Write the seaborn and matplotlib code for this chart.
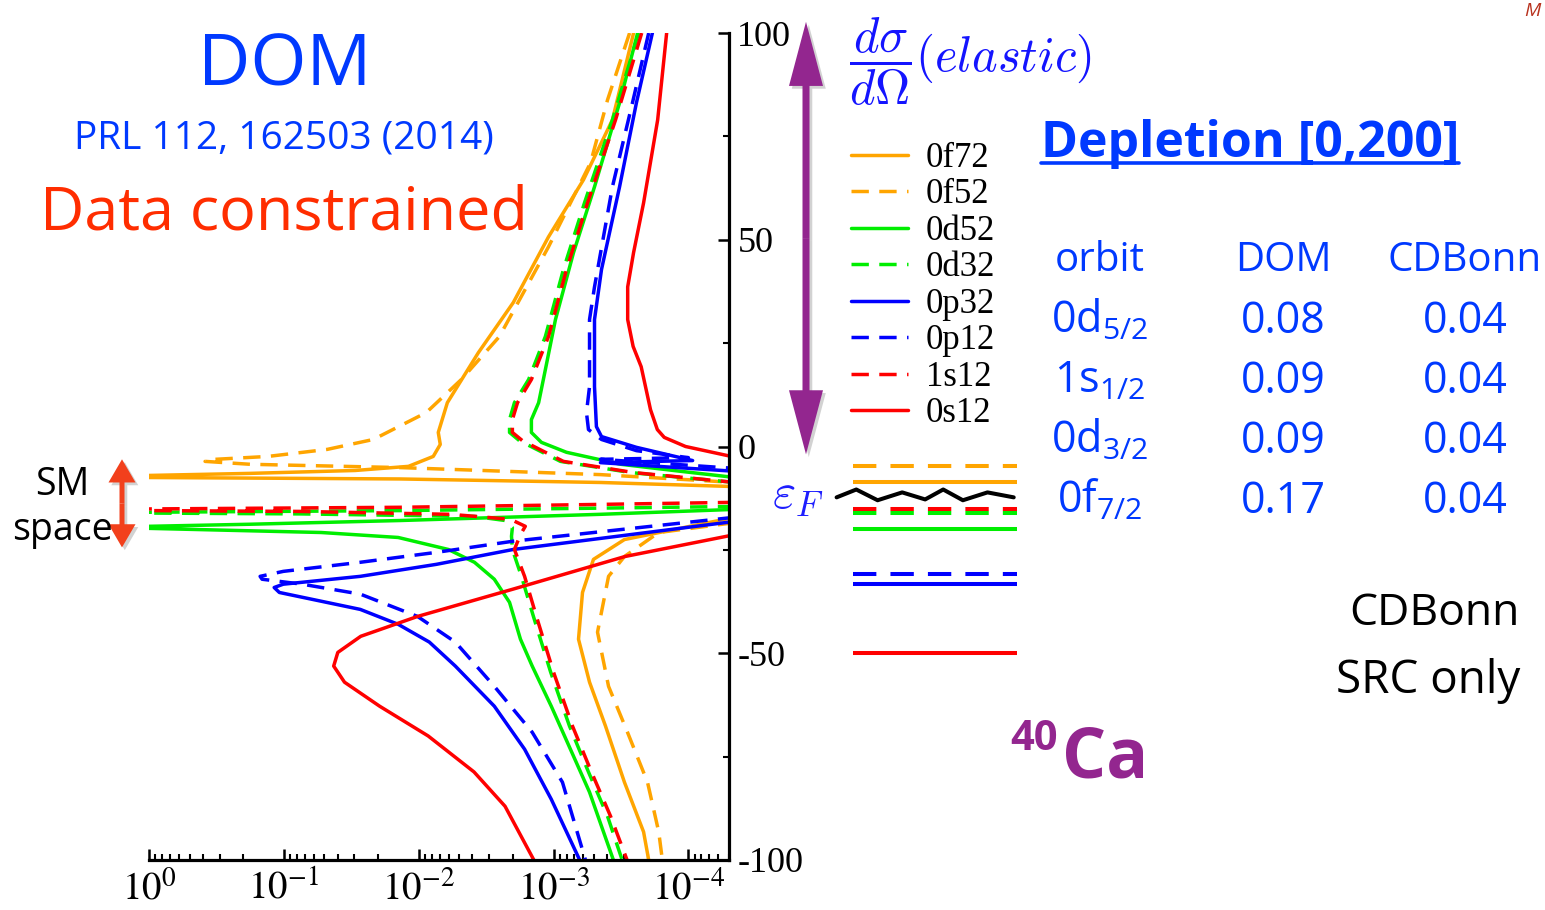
import matplotlib
matplotlib.use("Agg")
import matplotlib.pyplot as plt
import matplotlib.patheffects as pe
from matplotlib.patches import FancyArrow
from matplotlib.lines import Line2D
from matplotlib.ticker import LogLocator, MultipleLocator, NullFormatter
from matplotlib.transforms import blended_transform_factory
import pandas as pd
import seaborn as sns

# ---------------- spectral functions S(E) [MeV^-1] versus energy E [MeV] ----------------
# each orbit has a branch above and a branch below the Fermi energy
E_0f72_above = [100, 79.0, 64.5, 50.7, 34.8, 22.7, 10.6, 3.4, 0.5, -2.4, -4.8, -5.8, -6.5, -7.0, -7.25, -7.5, -7.85, -8.7, -9.7]
S_0f72_above = [2.55e-4, 3.66e-4, 6.0e-4, 1.09e-3, 1.99e-3, 3.61e-3, 6.13e-3, 7.16e-3, 6.92e-3, 7.80e-3, 1.19e-2, 2.96e-2, 0.178, 1.0, 10.0, 1.0, 1.37e-2, 4.49e-4, 4.5e-5]
E_0f72_below = [-17.1, -22.5, -27.3, -35.3, -46.6, -57.0, -67.6, -81.2, -93.2, -100]
S_0f72_below = [4.5e-5, 2.98e-4, 5.06e-4, 6.1e-4, 6.53e-4, 5.41e-4, 4.12e-4, 2.98e-4, 2.15e-4, 1.97e-4]

E_0f52_above = [100, 83.8, 68.6, 48.3, 26.6, 16.2, 8.2, 1.7, -0.7, -2.4, -3.1, -3.6, -4.3, -5.1, -6.8, -8.7]
S_0f52_above = [2.73e-4, 3.98e-4, 5.32e-4, 1.09e-3, 2.52e-3, 4.83e-3, 8.79e-3, 2.17e-2, 4.77e-2, 0.131, 0.324, 0.384, 0.178, 1.37e-2, 4.49e-4, 4.5e-5]
E_0f52_below = [-18.4, -20.8, -26.6, -31.4, -44.9, -58.0, -69.1, -81.2, -93.2, -100]
S_0f52_below = [4.5e-5, 1.66e-4, 2.98e-4, 3.91e-4, 4.72e-4, 3.91e-4, 2.83e-4, 2.01e-4, 1.66e-4, 1.56e-4]

E_0d52_above = [100, 83.1, 62.8, 46.9, 30.7, 18.6, 10.6, 6.5, 3.4, 1.0, -1.4, -4.3, -6.0, -7.5]
S_0d52_above = [2.38e-4, 3.24e-4, 4.97e-4, 7.11e-4, 9.68e-4, 1.15e-3, 1.29e-3, 1.46e-3, 1.46e-3, 1.23e-3, 8.02e-4, 3.18e-4, 1.14e-4, 4.5e-5]
E_0d52_below = [-15.2, -16.4, -17.9, -18.8, -19.3, -19.6, -19.8, -20.8, -22.0, -24.9, -28.0, -32.1, -37.7, -46.6, -53.1, -62.8, -73.2, -83.6, -100]
S_0d52_below = [4.5e-5, 4.49e-4, 1.37e-2, 0.178, 1.0, 10.0, 1.0, 5.28e-2, 1.42e-2, 6.03e-3, 3.86e-3, 2.75e-3, 2.12e-3, 1.76e-3, 1.44e-3, 1.04e-3, 7.5e-4, 5.41e-4, 3.6e-4]

E_0d32_above = [100, 79.0, 58.9, 42.8, 26.6, 16.2, 10.6, 6.5, 3.4, 1.4, -3.6, -6.3, -8.7]
S_0d32_above = [2.34e-4, 3.66e-4, 5.9e-4, 8.45e-4, 1.15e-3, 1.53e-3, 1.95e-3, 2.12e-3, 2.12e-3, 1.79e-3, 8.89e-4, 2.69e-4, 4.5e-5]
E_0d32_below = [-14.5, -15.5, -15.9, -16.0, -16.1, -16.3, -16.9, -17.9, -19.6, -21.7, -24.9, -31.4, -41.1, -54.6, -67.6, -78.7, -89.4, -100]
S_0d32_below = [4.5e-5, 1.37e-2, 1.0, 10.0, 1.0, 7.6e-2, 3.86e-3, 2.28e-3, 2.02e-3, 2.05e-3, 2.02e-3, 1.73e-3, 1.41e-3, 1.05e-3, 7.62e-4, 5.51e-4, 3.98e-4, 3.1e-4]

E_0p32_above = [100, 83.1, 62.8, 42.8, 30.7, 14.5, 4.8, 2.4, -0.2, -3.4, -3.9, -6.0]
S_0p32_above = [1.85e-4, 2.43e-4, 3.24e-4, 4.41e-4, 4.97e-4, 4.97e-4, 4.81e-4, 4.41e-4, 2.43e-4, 9.3e-5, 4.49e-4, 4.5e-5]
E_0p32_below = [-18.1, -24.9, -28.5, -31.4, -33.3, -34.1, -35.3, -39.4, -43.0, -47.3, -53.1, -62.8, -73.2, -85.3, -100]
S_0p32_below = [4.5e-5, 1.99e-3, 7.4e-3, 2.71e-2, 0.101, 0.118, 0.108, 2.71e-2, 1.42e-2, 8.34e-3, 5.35e-3, 2.75e-3, 1.64e-3, 1.04e-3, 6.4e-4]

E_0p12_above = [100, 83.1, 62.8, 38.6, 30.7, 14.5, 8.2, 4.1, 1.7, -1.0, -2.7, -3.1, -5.3]
S_0p12_above = [1.97e-4, 2.6e-4, 3.66e-4, 4.97e-4, 5.41e-4, 5.41e-4, 5.7e-4, 5.51e-4, 4.41e-4, 2.43e-4, 1.0e-4, 4.49e-4, 4.5e-5]
E_0p12_below = [-17.1, -22.9, -25.6, -28.0, -30.2, -31.4, -32.1, -33.3, -35.7, -41.1, -47.3, -58.0, -69.1, -81.2, -100]
S_0p12_below = [4.5e-5, 1.99e-3, 7.4e-3, 2.71e-2, 0.101, 0.150, 0.145, 7.31e-2, 2.71e-2, 1.02e-2, 5.35e-3, 2.75e-3, 1.44e-3, 8.59e-4, 5.8e-4]

E_1s12_above = [100, 79.0, 58.9, 42.8, 26.6, 16.2, 10.6, 6.5, 3.4, 1.4, -3.6, -6.3, -8.7]
S_1s12_above = [2.22e-4, 3.47e-4, 5.6e-4, 8.02e-4, 1.09e-3, 1.46e-3, 1.85e-3, 2.02e-3, 2.02e-3, 1.70e-3, 8.45e-4, 2.55e-4, 4.5e-5]
E_1s12_below = [-13.5, -14.0, -14.7, -15.1, -15.3, -15.5, -15.7, -16.4, -17.6, -19.3, -21.3, -24.9, -31.4, -41.1, -54.6, -67.6, -78.7, -89.4, -100]
S_1s12_below = [4.5e-5, 4.49e-4, 1.37e-2, 1.0, 10.0, 1.0, 7.57e-2, 5.82e-3, 2.09e-3, 1.62e-3, 1.76e-3, 1.95e-3, 1.64e-3, 1.34e-3, 1.0e-3, 7.24e-4, 5.24e-4, 3.78e-4, 2.85e-4]

E_0s12_above = [100, 79.0, 58.9, 46.9, 38.6, 30.7, 24.2, 19.3, 8.9, 4.1, 2.2, 0.0, -2.6]
S_0s12_above = [1.45e-4, 1.69e-4, 2.15e-4, 2.55e-4, 2.82e-4, 2.82e-4, 2.57e-4, 2.24e-4, 1.91e-4, 1.70e-4, 1.51e-4, 1.05e-4, 4.5e-5]
E_0s12_below = [-21.3, -26.6, -34.5, -41.1, -45.9, -49.8, -53.1, -57.0, -62.8, -70.0, -78.7, -87.0, -100]
S_0s12_below = [4.5e-5, 2.95e-4, 2.0e-3, 1.02e-2, 2.69e-2, 3.98e-2, 4.27e-2, 3.55e-2, 1.95e-2, 8.51e-3, 3.89e-3, 2.29e-3, 1.4e-3]

orbit_names = ["0f72", "0f52", "0d52", "0d32", "0p32", "0p12", "1s12", "0s12"]
orbit_colors = ["#FFA500", "#FFA500", "#00EE00", "#00EE00", "#0000FF", "#0000FF", "#FF0000", "#FF0000"]
orbit_dashed = [False, True, False, True, False, True, True, False]

# quasi-particle levels and Fermi energy [MeV]
level_orbits = ["0f52", "0f72", "1s12", "0d32", "0d52", "0p12", "0p32", "0s12"]
level_energies = [-4.8, -8.7, -15.2, -16.2, -19.9, -30.8, -33.3, -49.9]
fermi_energy = -11.7
fermi_zigzag_x = [-0.10, 0.02, 0.15, 0.30, 0.44, 0.55, 0.67, 0.82, 0.98]
fermi_zigzag_dE = [-0.6, 1.3, -1.3, 0.6, -1.1, 1.3, -1.3, 0.6, -0.6]

x_ticks = [1, 1e-1, 1e-2, 1e-3, 1e-4]
x_tick_labels = [r"$10^{0}$", r"$10^{-1}$", r"$10^{-2}$", r"$10^{-3}$", r"$10^{-4}$"]
y_ticks = [-100, -50, 0, 50, 100]
y_tick_labels = ["-100", "-50", "0", "50", "100"]

# depletion of the orbits, integrated over [0, 200] MeV
table_header = ["orbit", "DOM", "CDBonn"]
table_orbits = [r"0d$_{5/2}$", r"1s$_{1/2}$", r"0d$_{3/2}$", r"0f$_{7/2}$"]
depletion_dom = [0.08, 0.09, 0.09, 0.17]
depletion_cdbonn = [0.04, 0.04, 0.04, 0.04]

# ---------------- style ----------------
sns.set_theme(style="white")
plt.rcParams["font.family"] = ["Liberation Serif", "DejaVu Serif"]
plt.rcParams["text.color"] = "black"
plt.rcParams["axes.unicode_minus"] = False
plt.rcParams["mathtext.fontset"] = "custom"
plt.rcParams["mathtext.rm"] = "Open Sans"
plt.rcParams["mathtext.it"] = "Open Sans:italic"
plt.rcParams["mathtext.bf"] = "Open Sans:bold"

SANS = "Open Sans"
TXT_BLUE = "#0039FF"
PURPLE = "#93268F"

W, H = 1545, 910
fig = plt.figure(figsize=(W / 100, H / 100), dpi=100)


def fx(px):
    return px / W


def fy(py):
    return 1 - py / H


ax = fig.add_axes([fx(149), fy(860), (729 - 149) / W, (860 - 33) / H])
ax.set_xscale("log")

spectra = {
    "0f72": (E_0f72_above, S_0f72_above, E_0f72_below, S_0f72_below),
    "0f52": (E_0f52_above, S_0f52_above, E_0f52_below, S_0f52_below),
    "0d52": (E_0d52_above, S_0d52_above, E_0d52_below, S_0d52_below),
    "0d32": (E_0d32_above, S_0d32_above, E_0d32_below, S_0d32_below),
    "0p32": (E_0p32_above, S_0p32_above, E_0p32_below, S_0p32_below),
    "0p12": (E_0p12_above, S_0p12_above, E_0p12_below, S_0p12_below),
    "1s12": (E_1s12_above, S_1s12_above, E_1s12_below, S_1s12_below),
    "0s12": (E_0s12_above, S_0s12_above, E_0s12_below, S_0s12_below),
}
frames = []
for name, (ea, sa, eb, sb) in spectra.items():
    frames.append(pd.DataFrame({"orbit": name, "branch": "above", "E": ea, "S": sa}))
    frames.append(pd.DataFrame({"orbit": name, "branch": "below", "E": eb, "S": sb}))
spec = pd.concat(frames, ignore_index=True)

DASH = (0, (5, 3))
handles = []
for name, col, dashed in zip(orbit_names, orbit_colors, orbit_dashed):
    sns.lineplot(data=spec[spec["orbit"] == name], x="S", y="E", units="branch",
                 estimator=None, sort=False, ax=ax, color=col, linewidth=2.5,
                 linestyle=DASH if dashed else "-", legend=False)
    handles.append(ax.lines[-1])

ax.set_xlim(1, 5e-5)
ax.set_ylim(-100, 100)
ax.set_xlabel("")
ax.set_ylabel("")
for side in ("left", "top"):
    ax.spines[side].set_visible(False)
for side in ("right", "bottom"):
    ax.spines[side].set_visible(True)
    ax.spines[side].set_color("black")
    ax.spines[side].set_linewidth(2.3)

ax.set_xticks(x_ticks, x_tick_labels, math_fontfamily="stix", fontsize=28)
ax.xaxis.set_minor_locator(LogLocator(base=10, subs=range(2, 10), numticks=20))
ax.xaxis.set_minor_formatter(NullFormatter())
ax.yaxis.tick_right()
ax.set_yticks(y_ticks, y_tick_labels, fontsize=26)
ax.yaxis.set_minor_locator(MultipleLocator(25))
ax.tick_params(axis="x", which="both", direction="in", bottom=True, top=False,
               colors="black", pad=8)
ax.tick_params(axis="y", which="both", direction="in", right=True, left=False,
               labelright=True, labelleft=False, colors="black", pad=6)
ax.tick_params(which="major", length=8, width=1.8)
ax.tick_params(which="minor", length=4.5, width=1.5)

fig.legend(handles, orbit_names, loc="upper left", bbox_to_anchor=(fx(851), fy(142)),
           frameon=False, prop={"family": "Liberation Serif", "size": 25},
           labelcolor="black", handlelength=1.65, handletextpad=0.5, labelspacing=0.1,
           borderaxespad=0, borderpad=0)

# ---------------- level scheme next to the axis ----------------
lax = fig.add_axes([fx(853), fy(860), (1017 - 853) / W, (860 - 33) / H], sharey=ax)
lax.set_xlim(0, 1)
lax.axis("off")
cmap = dict(zip(orbit_names, orbit_colors))
dmap = dict(zip(orbit_names, orbit_dashed))
for name, e in zip(level_orbits, level_energies):
    lax.hlines(e, 0, 1, colors=cmap[name], linewidth=2.9,
               linestyles=(0, (5.8, 3.5)) if dmap[name] else "solid")
lax.plot(fermi_zigzag_x, [fermi_energy + d for d in fermi_zigzag_dE],
         color="black", lw=2.9, clip_on=False)
fig.text(fx(798), fy(495), r"$\varepsilon_F$", math_fontfamily="cm", color="#1E1EFF",
         fontsize=36, ha="center", va="center")

# ---------------- arrows ----------------
mix = blended_transform_factory(fig.transFigure, ax.transData)


def double_arrow(x_px, e_top, e_bot, shaft_px, head_w_px, head_len, color, shadow):
    mid = 0.5 * (e_top + e_bot)
    for end in (e_top, e_bot):
        arr = FancyArrow(fx(x_px), mid, 0, end - mid, width=shaft_px / W,
                         head_width=head_w_px / W, head_length=head_len,
                         length_includes_head=True, transform=mix, color=color,
                         lw=0, clip_on=False)
        if shadow:
            arr.set_path_effects([pe.SimplePatchShadow(offset=(2, -2), shadow_rgbFace="gray", alpha=0.35),
                                  pe.Normal()])
        fig.add_artist(arr)


double_arrow(806, 102.7, -1.9, 7, 34, 15.5, PURPLE, True)
double_arrow(122, -3.1, -24.4, 5, 27, 5.6, "#F2401C", True)

# ---------------- annotations ----------------
fig.text(fx(285), fy(85), "DOM", family=SANS, color=TXT_BLUE, fontsize=52,
         ha="center", va="baseline")
fig.text(fx(284), fy(148), "PRL 112, 162503 (2014)", family=SANS, color=TXT_BLUE,
         fontsize=28, ha="center", va="baseline")
fig.text(fx(284), fy(230), "Data constrained", family=SANS, color="#FF2D00",
         fontsize=44, ha="center", va="baseline")
fig.text(fx(62), fy(495), "SM", family=SANS, color="black", fontsize=27,
         ha="center", va="baseline")
fig.text(fx(62), fy(540), "space", family=SANS, color="black", fontsize=27,
         ha="center", va="baseline")

fig.text(fx(849), fy(62), r"$\dfrac{d\sigma}{d\Omega}(elastic)$", math_fontfamily="cm",
         color="#1414FF", fontsize=35, ha="left", va="center")

dep = fig.text(fx(1250), fy(157), "Depletion [0,200]", family=SANS, weight="bold",
               color=TXT_BLUE, fontsize=36, ha="center", va="baseline")

col_x = [1100, 1283, 1465]
for cx, head in zip(col_x, table_header):
    fig.text(fx(cx), fy(271), head, family=SANS, color=TXT_BLUE, fontsize=29,
             ha="center", va="baseline")
for i, (orb, d1, d2) in enumerate(zip(table_orbits, depletion_dom, depletion_cdbonn)):
    base = 333 + 60 * i
    fig.text(fx(col_x[0]), fy(base), orb, family=SANS, color=TXT_BLUE, fontsize=31,
             ha="center", va="baseline")
    fig.text(fx(col_x[1]), fy(base), f"{d1:.2f}", family=SANS, color=TXT_BLUE,
             fontsize=31, ha="center", va="baseline")
    fig.text(fx(col_x[2]), fy(base), f"{d2:.2f}", family=SANS, color=TXT_BLUE,
             fontsize=31, ha="center", va="baseline")

fig.text(fx(1520), fy(625), "CDBonn", family=SANS, color="black", fontsize=32,
         ha="right", va="baseline")
fig.text(fx(1520), fy(693), "SRC only", family=SANS, color="black", fontsize=33,
         ha="right", va="baseline")

fig.text(fx(1058), fy(750), "40", family=SANS, weight="bold", color=PURPLE,
         fontsize=30, ha="right", va="baseline")
fig.text(fx(1062), fy(778), "Ca", family=SANS, weight="bold", color=PURPLE,
         fontsize=50, ha="left", va="baseline")
fig.text(fx(1532), fy(2), "M", family=SANS, style="italic", color="#B8321E",
         fontsize=14, ha="center", va="top")

# underline of the depletion heading
fig.canvas.draw()
bb = dep.get_window_extent(fig.canvas.get_renderer())
inv = fig.transFigure.inverted()
(x0, y0), (x1, _) = inv.transform([(bb.x0, bb.y0 + 6), (bb.x1, bb.y0 + 6)])
fig.add_artist(Line2D([x0, x1], [y0, y0], transform=fig.transFigure,
                      color=TXT_BLUE, lw=2.6))

fig.savefig("out.png", dpi=100)
